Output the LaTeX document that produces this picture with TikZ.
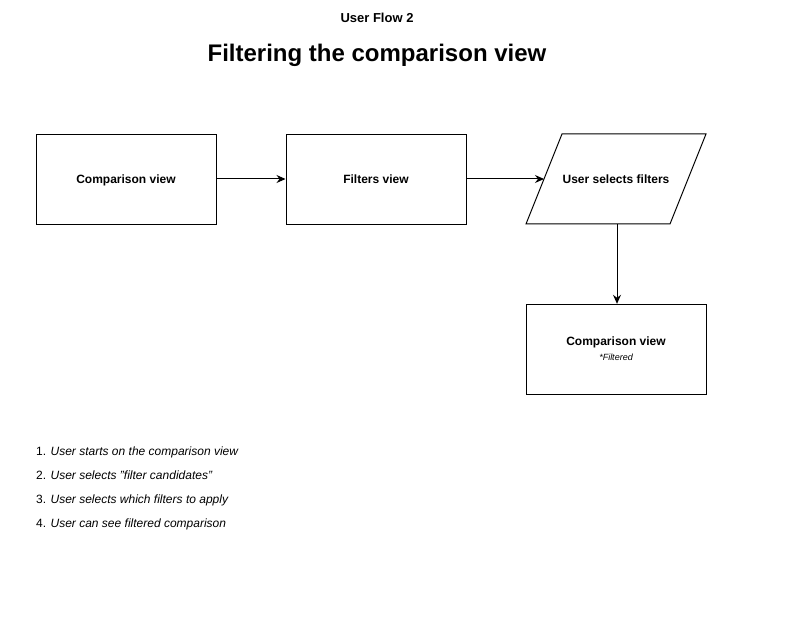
\documentclass[tikz,border=0pt]{standalone}
\usepackage{fontspec}
\setmainfont{Liberation Sans}
\usetikzlibrary{arrows.meta}
\begin{document}
\begin{tikzpicture}[x=1pt,y=-1pt,
  box/.style={draw=black,line width=1pt,minimum width=180pt,minimum height=90pt,inner sep=0pt,font=\fontsize{12}{14}\selectfont\bfseries,align=center,text height=9pt,text depth=1pt},
  conn/.style={draw=black,line width=1pt,-{Stealth[length=9pt,width=8pt,inset=3pt]}},
  item/.style={anchor=base west,inner sep=0pt,font=\fontsize{12}{14}\selectfont}]
\useasboundingbox (0,0) rectangle (797,620);
\node (t1) at (377,18) {\fontsize{13}{15}\selectfont\bfseries User Flow 2};
\node (t2) at (377,55) {\fontsize{24}{28}\selectfont\bfseries Filtering the comparison view};
\node[box] (b1) at (126,180) {Comparison view};
\node[box] (b2) at (376,180) {Filters view};
\coordinate (p1) at (562,134);
\coordinate (p2) at (706,134);
\coordinate (p3) at (670,224);
\coordinate (p4) at (526,224);
\draw[line width=1pt] (p1) -- (p2) -- (p3) -- (p4) -- cycle;
\node[font=\fontsize{12}{14}\selectfont\bfseries,text height=9pt,text depth=1pt] (b3) at (616,180) {User selects filters};
\coordinate (b3w) at (544,179);
\coordinate (b3s) at (617,224);
\draw[line width=1pt] (526,304) rectangle (706,394);
\node[inner sep=0pt,minimum width=180pt,minimum height=90pt] (b4) at (616,349) {};
\node[inner sep=0pt,font=\fontsize{12}{14}\selectfont\bfseries] (b4a) at (616,342) {Comparison view};
\node[inner sep=0pt,font=\fontsize{9}{11}\selectfont\itshape] (b4b) at (616,357) {*Filtered};
\draw[conn] (b1.east |- 0,179) -- (b2.west |- 0,179);
\draw[conn] (b2.east |- 0,179) -- (b3w);
\draw[conn] (b3s) -- (b4.north -| b3s);
\node[item] (l1) at (36,455) {1. \textit{User starts on the comparison view}};
\node[item] (l2) at (36,479) {2. \textit{User selects \char34 filter candidates\char34}};
\node[item] (l3) at (36,503) {3. \textit{User selects which filters to apply}};
\node[item] (l4) at (36,527) {4. \textit{User can see filtered comparison}};
\end{tikzpicture}
\end{document}
